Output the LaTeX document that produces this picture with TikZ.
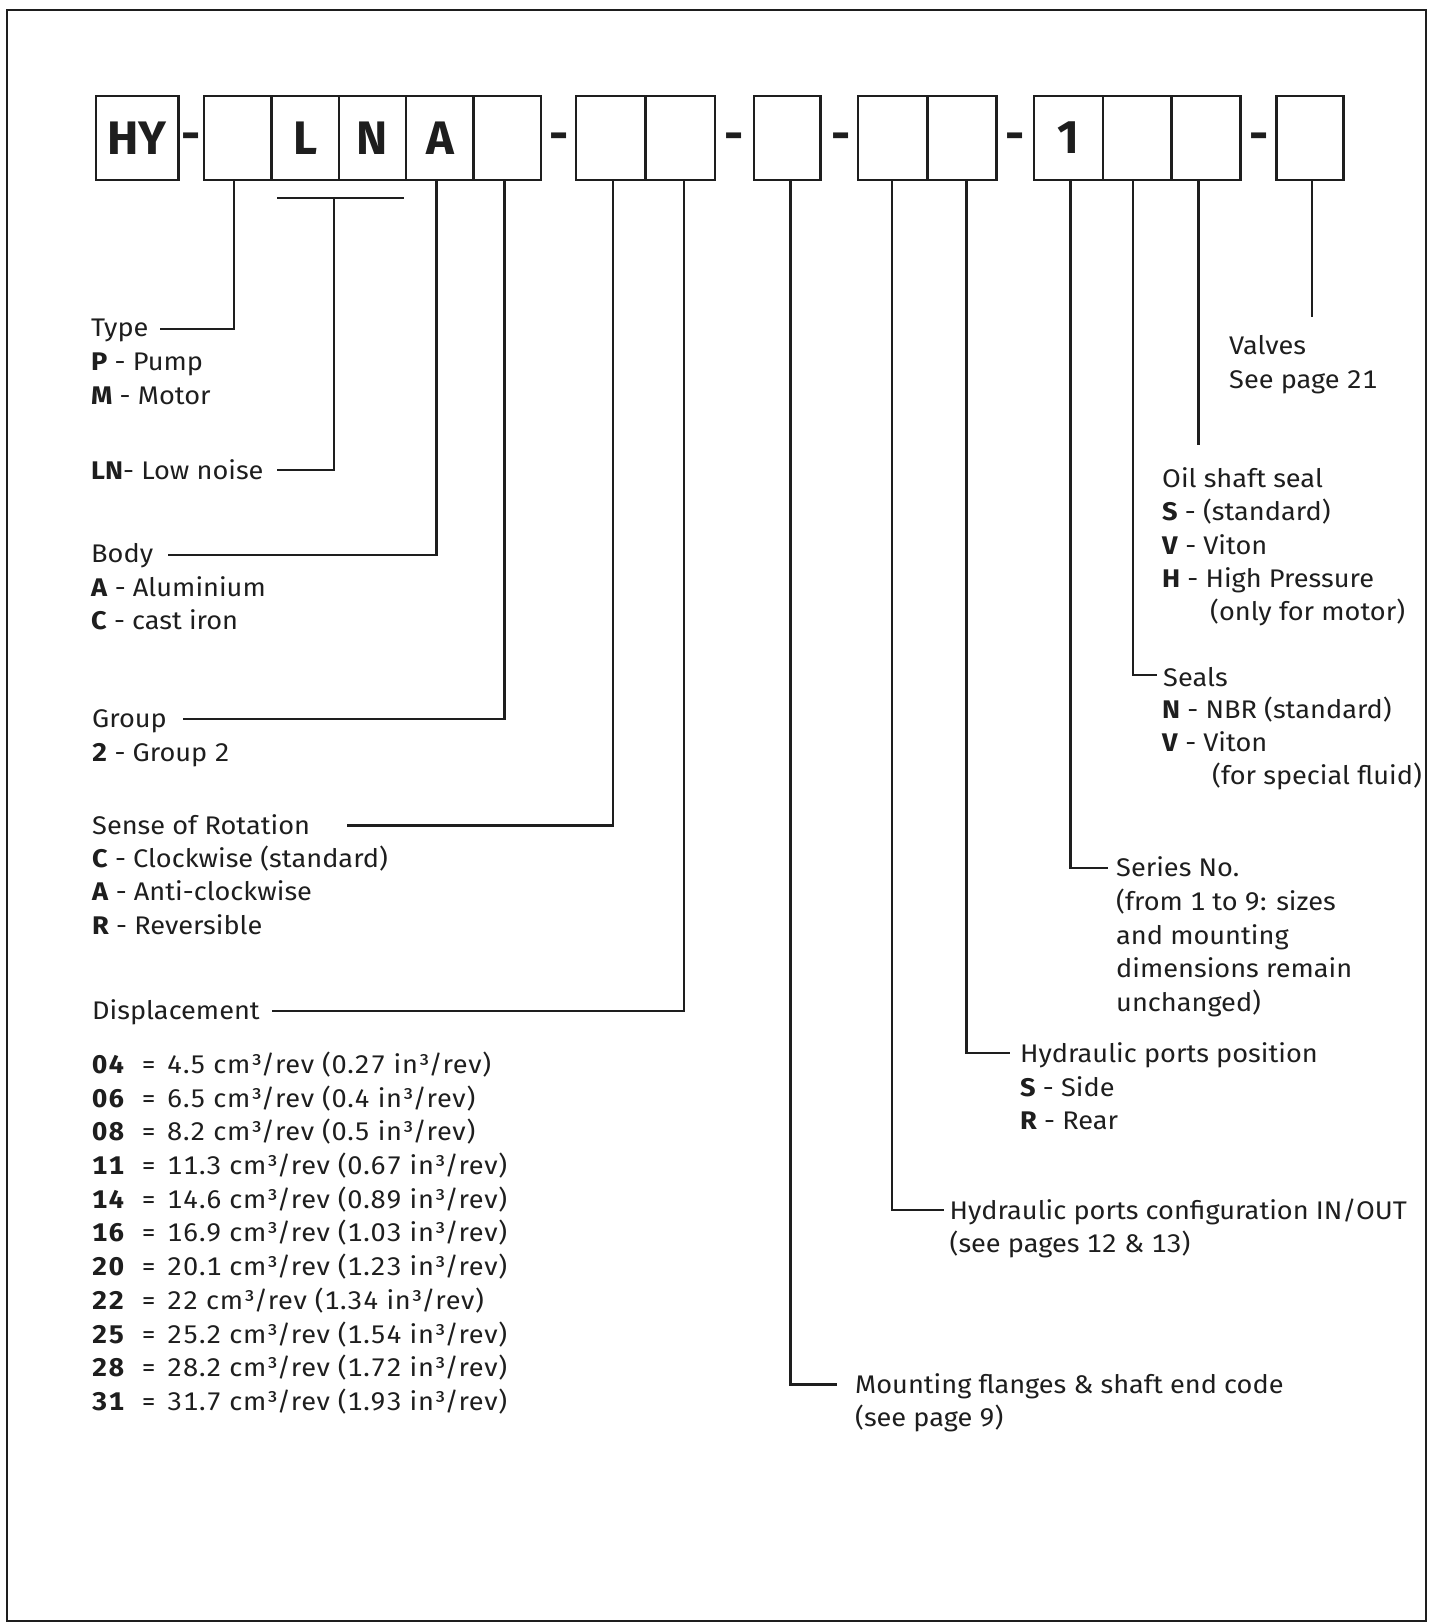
\documentclass[tikz,border=0pt]{standalone}
\usepackage{fontspec}
\setmainfont{Fira Sans}[Numbers=Monospaced, FakeStretch=1.065]
\newfontfamily\bigfont{Fira Sans}
\definecolor{ink}{RGB}{30,30,30}
\begin{document}
\begin{tikzpicture}[x=1pt,y=-1pt,
  cell/.style={draw=ink, line width=2.4pt, minimum height=84pt, inner sep=0pt, text=ink,
    font=\bigfont\fontsize{47}{47}\selectfont\bfseries},
  sep/.style={anchor=base, inner sep=0pt, text=ink, font=\bigfont\fontsize{47}{47}\selectfont\bfseries},
  lab/.style={anchor=base west, inner sep=0pt, text=ink, font=\fontsize{25.5}{33.7}\selectfont},
  tab/.style={lab, font=\fontsize{25.5}{33.7}\selectfont\addfontfeatures{LetterSpace=2.8}},
  tabcode/.style={lab, font=\fontsize{25.5}{33.7}\selectfont\bfseries\addfontfeatures{LetterSpace=6}},
  conn/.style={draw=ink, line width=2.4pt}]
\useasboundingbox (0,0) rectangle (1435,1623);
\draw[ink, line width=2.6pt] (7,10) rectangle (1426,1621);

% code boxes
\node[cell, minimum width=82.6pt] (hy) at (137.3,138) {HY};
\node[sep] (s1) at (191.5,150) {-};
\node[cell, minimum width=67.4pt] (a1) at (237.7,138) {};
\node[cell, minimum width=67.4pt] (a2) at (305.1,138) {L};
\node[cell, minimum width=67.4pt] (a3) at (372.5,138) {N};
\node[cell, minimum width=67.4pt] (a4) at (439.9,138) {A};
\node[cell, minimum width=67.4pt] (a5) at (507.3,138) {};
\node[sep] (s2) at (559,150) {-};
\node[cell, minimum width=69.4pt] (b1) at (610.9,138) {};
\node[cell, minimum width=69.4pt] (b2) at (680.3,138) {};
\node[sep] (s3) at (734.5,150) {-};
\node[cell, minimum width=66.5pt] (b3) at (787.25,138) {};
\node[sep] (s4) at (841,150) {-};
\node[cell, minimum width=69.35pt] (d1) at (892.65,138) {};
\node[cell, minimum width=69.35pt] (d2) at (962,138) {};
\node[sep] (s5) at (1014.7,150) {-};
\node[cell, minimum width=68.9pt] (e1) at (1068.25,138) {1};
\node[cell, minimum width=68.9pt] (e2) at (1137.15,138) {};
\node[cell, minimum width=68.9pt] (e3) at (1206.05,138) {};
\node[sep] (s6) at (1259.5,150) {-};
\node[cell, minimum width=67pt] (e4) at (1310.1,138) {};

% left labels
\node[lab] (type) at (91,336) {Type};
\node[lab] (typeP) at (91,370.4) {\textbf{P} - Pump};
\node[lab] (typeM) at (91,404.5) {\textbf{M} - Motor};
\node[lab] (ln) at (91,479) {\textbf{LN}- Low noise};
\node[lab] (body) at (91,562) {Body};
\node[lab] (bodyA) at (91,596) {\textbf{A} - Aluminium};
\node[lab] (bodyC) at (91,629) {\textbf{C} - cast iron};
\node[lab] (grp) at (92,727) {Group};
\node[lab] (grp2) at (92,761.5) {\textbf{2} - Group 2};
\node[lab] (rot) at (92,834.2) {Sense of Rotation};
\node[lab] (rotC) at (92,867.3) {\textbf{C} - Clockwise (standard)};
\node[lab] (rotA) at (92,900.5) {\textbf{A} - Anti-clockwise};
\node[lab] (rotR) at (92,934.6) {\textbf{R} - Reversible};
\node[lab] (disp) at (92,1019.6) {Displacement};
\foreach \c/\v [count=\i from 0] in {04/{4.5 cm³/rev (0.27 in³/rev)},06/{6.5 cm³/rev (0.4 in³/rev)},08/{8.2 cm³/rev (0.5 in³/rev)},11/{11.3 cm³/rev (0.67 in³/rev)},14/{14.6 cm³/rev (0.89 in³/rev)},16/{16.9 cm³/rev (1.03 in³/rev)},20/{20.1 cm³/rev (1.23 in³/rev)},22/{22 cm³/rev (1.34 in³/rev)},25/{25.2 cm³/rev (1.54 in³/rev)},28/{28.2 cm³/rev (1.72 in³/rev)},31/{31.7 cm³/rev (1.93 in³/rev)}}{
  \node[tabcode] (dc\i) at (92,1073.4+33.7*\i) {\c};
  \node[lab] (de\i) at (141,1073.4+33.7*\i) {=};
  \node[tab] (dv\i) at (167,1073.4+33.7*\i) {\v};
}

% right labels
\node[lab] (valv) at (1229,354) {Valves};
\node[lab] (valv2) at (1229,388.3) {See page 21};
\node[lab] (oil) at (1162,487.3) {Oil shaft seal};
\node[lab] (oilS) at (1162,520) {\textbf{S} - (standard)};
\node[lab] (oilV) at (1162,554) {\textbf{V} - Viton};
\node[lab] (oilH) at (1162,587.3) {\textbf{H} - High Pressure};
\node[lab] (oilH2) at (1210,620.7) {(only for motor)};
\node[lab] (seal) at (1163,686) {Seals};
\node[lab] (sealN) at (1162,718.3) {\textbf{N} - NBR (standard)};
\node[lab] (sealV) at (1162,751.7) {\textbf{V} - Viton};
\node[lab] (sealV2) at (1212,784) {(for special fluid)};
\node[lab] (ser) at (1116,876.7) {Series No.};
\node[lab] (ser2) at (1116,910.4) {(from 1 to 9: sizes};
\node[lab] (ser3) at (1116,944.1) {and mounting};
\node[lab] (ser4) at (1116,977.8) {dimensions remain};
\node[lab] (ser5) at (1116,1011.5) {unchanged)};
\node[lab] (ppos) at (1020,1062) {Hydraulic ports position};
\node[lab] (pposS) at (1020,1096.2) {\textbf{S} - Side};
\node[lab] (pposR) at (1020,1129.3) {\textbf{R} - Rear};
\node[lab] (pcfg) at (949.5,1219.4) {Hydraulic ports configuration IN/OUT};
\node[lab] (pcfg2) at (949.5,1252.5) {(see pages 12 \& 13)};
\node[lab] (mnt) at (855,1393.3) {Mounting flanges \& shaft end code};
\node[lab] (mnt2) at (855,1426.5) {(see page 9)};

% connector points
\coordinate (kT) at (234,329);   \coordinate (kTe) at (160,329);
\coordinate (lnA) at (277,198);  \coordinate (lnB) at (404,198);
\coordinate (lnV) at (334,198);  \coordinate (kL) at (334,470); \coordinate (kLe) at (277,470);
\coordinate (kB) at (436.5,555); \coordinate (kBe) at (168,555);
\coordinate (kG) at (504.5,719); \coordinate (kGe) at (183,719);
\coordinate (kR) at (613,825.5); \coordinate (kRe) at (347,825.5);
\coordinate (kD) at (684,1011);  \coordinate (kDe) at (272,1011);
\coordinate (kM) at (790.5,1384.5); \coordinate (kMe) at (836.6,1384.5);
\coordinate (kC) at (892.2,1210); \coordinate (kCe) at (944,1210);
\coordinate (kP) at (966.3,1053); \coordinate (kPe) at (1009.5,1053);
\coordinate (kS) at (1070.3,868); \coordinate (kSe) at (1108,868);
\coordinate (kE) at (1133.2,675); \coordinate (kEe) at (1157,675);
\coordinate (kO) at (1198.5,445);
\coordinate (kV) at (1311.8,317);

\draw[conn] (a1.south -| kT) -- (kT) -- (kTe);
\draw[conn] (lnA) -- (lnB);
\draw[conn] (lnV) -- (kL) -- (kLe);
\draw[conn] (a4.south -| kB) -- (kB) -- (kBe);
\draw[conn] (a5.south -| kG) -- (kG) -- (kGe);
\draw[conn] (b1.south -| kR) -- (kR) -- (kRe);
\draw[conn] (b2.south -| kD) -- (kD) -- (kDe);
\draw[conn] (b3.south -| kM) -- (kM) -- (kMe);
\draw[conn] (d1.south -| kC) -- (kC) -- (kCe);
\draw[conn] (d2.south -| kP) -- (kP) -- (kPe);
\draw[conn] (e1.south -| kS) -- (kS) -- (kSe);
\draw[conn] (e2.south -| kE) -- (kE) -- (kEe);
\draw[conn] (e3.south -| kO) -- (kO);
\draw[conn] (e4.south -| kV) -- (kV);
\end{tikzpicture}
\end{document}
